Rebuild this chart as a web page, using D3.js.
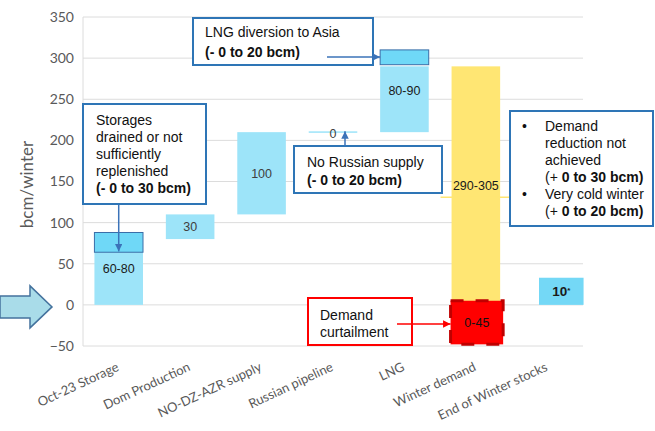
<!DOCTYPE html>
<html>
<head>
<meta charset="utf-8">
<script src="https://cdn.jsdelivr.net/npm/d3@7"></script>
<style>
  body { margin: 0; background: #fff; }
  svg { display: block; }
  .callout { font-family: "Liberation Sans", Arial, sans-serif; font-size: 14px; fill: #111; }
</style>
</head>
<body>
<script>
// Chart data
const categories = ["Oct-23 Storage", "Dom Production", "NO-DZ-AZR supply", "Russian pipeline", "LNG", "Winter demand", "End of Winter stocks"];
const barStart = [0, 80, 110, 210, 210, 4, 0];
const barEnd = [64, 110, 210, 211, 290, 290, 33];
const barLabels = ["60-80", "30", "100", "0", "80-90", "290-305", "10"];
const labelAt = [44, 95, 160, 208, 260, 145, 16];
const yTicks = [-50, 0, 50, 100, 150, 200, 250, 300, 350];

// risk ranges drawn on top of the bars
const riskCats = ["Oct-23 Storage", "LNG"];
const riskFrom = [64, 292];
const riskTo = [88, 310];

// demand curtailment range
const curtailCat = "Winter demand";
const curtailFrom = -48;
const curtailTo = 5;
const curtailLabel = "0-45";

const margin = { top: 17, right: 72, bottom: 85, left: 83 };
const width = 655 - margin.left - margin.right;
const height = 431 - margin.top - margin.bottom;

const svg = d3.select("body").append("svg")
    .attr("width", 655)
    .attr("height", 431);

const defs = svg.append("defs");
function marker(id, color) {
    defs.append("marker")
        .attr("id", id)
        .attr("viewBox", "0 0 10 10")
        .attr("refX", 10).attr("refY", 5)
        .attr("markerWidth", 5).attr("markerHeight", 5)
        .attr("markerUnits", "strokeWidth")
        .attr("orient", "auto")
      .append("path")
        .attr("d", "M0,0L10,5L0,10Z")
        .attr("fill", color);
}
marker("arrBlue", "#3b73b9");
marker("arrRed", "#ff0000");

const g = svg.append("g")
    .attr("transform", "translate(" + margin.left + "," + margin.top + ")");

const x = d3.scaleBand()
    .domain(categories)
    .range([0, width])
    .paddingInner(0.32)
    .paddingOuter(0.16);

const y = d3.scaleLinear()
    .domain([-50, 350])
    .range([height, 0]);

// gridlines
g.append("g")
    .selectAll("line")
    .data(yTicks)
    .enter().append("line")
    .attr("x1", 0).attr("x2", width)
    .attr("y1", d => y(d)).attr("y2", d => y(d))
    .attr("stroke", "#dcdcdc")
    .attr("stroke-width", 1);

g.append("line")
    .attr("x1", 0).attr("x2", 0)
    .attr("y1", 0).attr("y2", height)
    .attr("stroke", "#dcdcdc");

// y axis
const yAxis = g.append("g")
    .call(d3.axisLeft(y).tickValues(yTicks).tickSize(0).tickPadding(9));
yAxis.select(".domain").remove();
yAxis.selectAll("text")
    .attr("font-family", "Lato, sans-serif")
    .attr("font-size", 14)
    .attr("fill", "#595959");

g.append("text")
    .attr("transform", "rotate(-90)")
    .attr("x", -(y(150) + 3))
    .attr("y", -50)
    .attr("text-anchor", "middle")
    .attr("font-family", "Lato, sans-serif")
    .attr("font-size", 17)
    .attr("fill", "#595959")
    .text("bcm/winter");

// x labels, rotated
g.append("g")
    .selectAll("text")
    .data(categories)
    .enter().append("text")
    .attr("transform", d => "translate(" + (x(d) + x.bandwidth() / 2 + 1) + "," + (height + 24) + ") rotate(-25)")
    .attr("text-anchor", "end")
    .attr("font-family", "Lato, sans-serif")
    .attr("font-size", 13)
    .attr("fill", "#595959")
    .text(d => d);

// the last bar sits a bit to the right in the original
const barX = (c) => x(c) + (c === "End of Winter stocks" ? 16 : 0);
const barW = (c) => c === "End of Winter stocks" ? x.bandwidth() - 4 : x.bandwidth();

const bars = categories.map((c, i) => ({ cat: c, from: barStart[i], to: barEnd[i], label: barLabels[i], at: labelAt[i] }));

g.append("g")
    .selectAll("rect")
    .data(bars)
    .enter().append("rect")
    .attr("x", d => barX(d.cat))
    .attr("y", d => y(d.to))
    .attr("width", d => barW(d.cat))
    .attr("height", d => Math.max(1.5, y(d.from) - y(d.to)))
    .attr("fill", d => d.cat === "Winter demand" ? "#ffe673" : (d.cat === "End of Winter stocks" ? "#74d8f6" : "#9de4f9"));

// little yellow connector next to demand bar
g.append("line")
    .attr("x1", x("Winter demand") - 11)
    .attr("x2", x("Winter demand") + x.bandwidth() + 10)
    .attr("y1", y(131)).attr("y2", y(131))
    .attr("stroke", "#ffe673")
    .attr("stroke-width", 1.5);

// risk boxes
g.append("g")
    .selectAll("rect")
    .data(riskCats)
    .enter().append("rect")
    .attr("x", d => x(d))
    .attr("y", (d, i) => y(riskTo[i]))
    .attr("width", x.bandwidth())
    .attr("height", (d, i) => y(riskFrom[i]) - y(riskTo[i]))
    .attr("fill", "#6fd8f7")
    .attr("stroke", "#3a6ea8")
    .attr("stroke-width", 1);

// curtailment box
g.append("rect")
    .attr("x", x(curtailCat) - 1)
    .attr("y", y(curtailTo))
    .attr("width", x.bandwidth() + 4)
    .attr("height", y(curtailFrom) - y(curtailTo))
    .attr("fill", "#ff0000")
    .attr("stroke", "#c00000")
    .attr("stroke-width", 3)
    .attr("stroke-dasharray", "13,12");

g.append("text")
    .attr("x", x(curtailCat) + x.bandwidth() / 2 + 1)
    .attr("y", y((curtailFrom + curtailTo) / 2))
    .attr("dy", "0.35em")
    .attr("text-anchor", "middle")
    .attr("font-family", "Liberation Sans, Arial, sans-serif")
    .attr("font-size", 12.5)
    .attr("fill", "#111")
    .text(curtailLabel);

// bar labels
g.append("g")
    .selectAll("text")
    .data(bars)
    .enter().append("text")
    .attr("x", d => barX(d.cat) + barW(d.cat) / 2)
    .attr("y", d => y(d.at))
    .attr("dy", "0.35em")
    .attr("text-anchor", "middle")
    .attr("font-family", "Liberation Sans, Arial, sans-serif")
    .attr("font-size", d => d.cat === "End of Winter stocks" ? 13.5 : 12.5)
    .attr("font-weight", d => d.cat === "End of Winter stocks" ? "bold" : "normal")
    .attr("fill", d => (d.cat === "Dom Production" || d.cat === "NO-DZ-AZR supply" || d.cat === "Russian pipeline") ? "#404040" : "#1a1a1a")
    .text(d => d.label)
    .filter(d => d.cat === "End of Winter stocks")
    .append("tspan")
    .attr("dy", "-0.4em")
    .attr("font-size", 8)
    .text("*");

// big arrow on the left, pointing to zero
const y0 = margin.top + y(0);
svg.append("path")
    .attr("d", "M0," + (y0 - 9) + "L30," + (y0 - 9) + "L30," + (y0 - 19) + "L52," + (y0 + 2) + "L30," + (y0 + 23) + "L30," + (y0 + 13) + "L0," + (y0 + 13) + "Z")
    .attr("fill", "#a9dce9")
    .attr("stroke", "#44729d")
    .attr("stroke-width", 1.5);

// callouts
function callout(bx, by, bw, bh, color, lines, tx, ty, lh) {
    svg.append("rect")
        .attr("x", bx).attr("y", by)
        .attr("width", bw).attr("height", bh)
        .attr("fill", "#fff")
        .attr("stroke", color)
        .attr("stroke-width", 2);
    lines.forEach((ln, i) => {
        const t = svg.append("text")
            .attr("class", "callout")
            .attr("x", tx)
            .attr("y", ty + i * lh);
        ln.forEach(part => {
            t.append("tspan")
                .attr("font-weight", part[1] ? "bold" : "normal")
                .text(part[0]);
        });
    });
}

function arrow(x1, y1, x2, y2, color, id) {
    svg.append("line")
        .attr("x1", x1).attr("y1", y1)
        .attr("x2", x2).attr("y2", y2)
        .attr("stroke", color)
        .attr("stroke-width", 1.5)
        .attr("marker-end", "url(#" + id + ")");
}

const px = c => margin.left + x(c);
const py = v => margin.top + y(v);

callout(83, 104, 123, 100, "#2e75b6",
    [[["Storages", false]], [["drained or not", false]], [["sufficiently", false]], [["replenished", false]], [["(- 0 to 30 bcm)", true]]],
    96, 125, 17);
arrow(px("Oct-23 Storage") + x.bandwidth() / 2, 205, px("Oct-23 Storage") + x.bandwidth() / 2, py(65), "#3b73b9", "arrBlue");

callout(193, 18, 180, 47, "#2e75b6",
    [[["LNG diversion to Asia", false]], [["(- 0 to 20 bcm)", true]]],
    205, 37, 20);
arrow(327, 57, px("LNG"), 57, "#3b73b9", "arrBlue");

callout(294, 146, 148, 47, "#2e75b6",
    [[["No Russian supply", false]], [["(- 0 to 20 bcm)", true]]],
    307, 167, 18);
arrow(px("Russian pipeline") + x.bandwidth() / 2 + 12, 146, px("Russian pipeline") + x.bandwidth() / 2 + 12, py(211), "#3b73b9", "arrBlue");

callout(510, 111, 143, 115, "#2e75b6",
    [[["Demand", false]], [["reduction not", false]], [["achieved", false]], [["(+ ", false], ["0 to 30 bcm)", true]], [["Very cold winter", false]], [["(+ ", false], ["0 to 20 bcm)", true]]],
    545, 131, 17);
[131, 199].forEach(by => {
    svg.append("text")
        .attr("class", "callout")
        .attr("x", 522).attr("y", by)
        .text("•");
});

callout(308, 298, 104, 47, "#ff0000",
    [[["Demand", false]], [["curtailment", false]]],
    320, 320, 17);
arrow(397, 324, px(curtailCat) - 1, 324, "#ff0000", "arrRed");
</script>
</body>
</html>
